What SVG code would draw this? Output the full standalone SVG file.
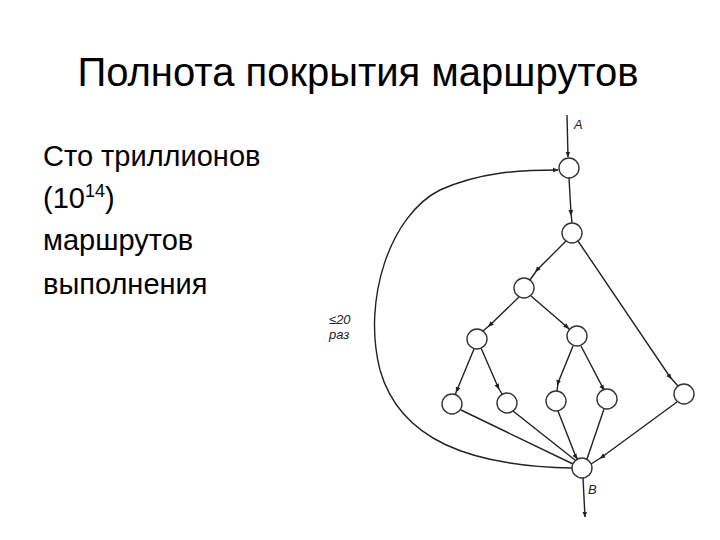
<svg xmlns="http://www.w3.org/2000/svg" width="720" height="540" viewBox="0 0 720 540">
<defs>
<marker id="ah" viewBox="0 0 10 10" refX="9" refY="5" markerWidth="6" markerHeight="6" orient="auto" markerUnits="userSpaceOnUse">
<path d="M0,1 L10,5 L0,9 z" fill="#222"/>
</marker>
<marker id="mid" viewBox="0 0 10 10" refX="5" refY="5" markerWidth="6" markerHeight="6" orient="auto" markerUnits="userSpaceOnUse">
<path d="M0,1 L10,5 L0,9 z" fill="#222"/>
</marker>
</defs>
<style>
.t{font-family:"Liberation Sans","Open Sans",sans-serif;fill:#000}
.n{fill:#fff;stroke:#333;stroke-width:1.4}
.e{stroke:#222;stroke-width:1.4;fill:none}
.lb{font-family:"Liberation Sans",sans-serif;font-style:italic;font-size:13px;fill:#222}
</style>
<rect width="720" height="540" fill="#fff"/>
<text class="t" x="358" y="86" font-size="40" text-anchor="middle">Полнота покрытия маршрутов</text>
<g id="body">
<text class="t" x="43" y="166" font-size="29">Сто триллионов</text>
<text class="t" x="43" y="208" font-size="29">(10<tspan font-size="18" dy="-11">14</tspan><tspan dy="11">)</tspan></text>
<text class="t" x="43" y="250" font-size="29">маршрутов</text>
<text class="t" x="43" y="294" font-size="29">выполнения</text>
</g>
<g id="connectors">
<path class="e" d="M567,115 L568,157" marker-end="url(#ah)"/>
<path class="e" d="M569,178 L571,213 L572,223" marker-mid="url(#mid)"/>
<path class="e" d="M566,241 L537,270 L530,280" marker-mid="url(#mid)"/>
<path class="e" d="M578,241 L670,377 L678,386" marker-mid="url(#mid)"/>
<path class="e" d="M519,297 L490,325 L483,331" marker-mid="url(#mid)"/>
<path class="e" d="M531,296 L567,327 L570,330" marker-mid="url(#mid)"/>
<path class="e" d="M474,349 L457,390 L455,395" marker-mid="url(#mid)"/>
<path class="e" d="M481,348 L498,387 L502,394" marker-mid="url(#mid)"/>
<path class="e" d="M573,346 L558,383 L557,391" marker-mid="url(#mid)"/>
<path class="e" d="M581,346 L603,388 L605,390" marker-mid="url(#mid)"/>
<path class="e" d="M461,410 L573,464"/>
<path class="e" d="M513,411 L575,460"/>
<path class="e" d="M558,411 L576,457 L578,459" marker-mid="url(#mid)"/>
<path class="e" d="M604,409 L587,459"/>
<path class="e" d="M677,402 L602,457 L591,464" marker-mid="url(#mid)"/>
<path class="e" d="M572,468 C470,466 400,440 380,370 C362,300 390,215 440,190 C480,172 520,170 558,170" marker-end="url(#ah)"/>
<path class="e" d="M583,478 L585,517" marker-end="url(#ah)"/>
</g>
<g id="n1"><circle class="n" cx="569" cy="168" r="10"/></g>
<g id="n2"><circle class="n" cx="572" cy="233" r="10"/></g>
<g id="n3"><circle class="n" cx="524" cy="288" r="10"/></g>
<g id="n4"><circle class="n" cx="477" cy="339" r="10"/></g>
<g id="n5"><circle class="n" cx="577" cy="336" r="10"/></g>
<g id="l1"><circle class="n" cx="452" cy="404" r="10"/></g>
<g id="l2"><circle class="n" cx="507" cy="403" r="10"/></g>
<g id="l3"><circle class="n" cx="556" cy="401" r="10"/></g>
<g id="l4"><circle class="n" cx="607" cy="399" r="10"/></g>
<g id="l5"><circle class="n" cx="684" cy="394" r="10"/></g>
<g id="nb"><circle class="n" cx="582" cy="468" r="10"/></g>
<text class="lb" x="574" y="129">A</text>
<text class="lb" x="588" y="494">B</text>
<text class="lb" x="329" y="324">≤20</text>
<text class="lb" x="329" y="339">раз</text>
</svg>
